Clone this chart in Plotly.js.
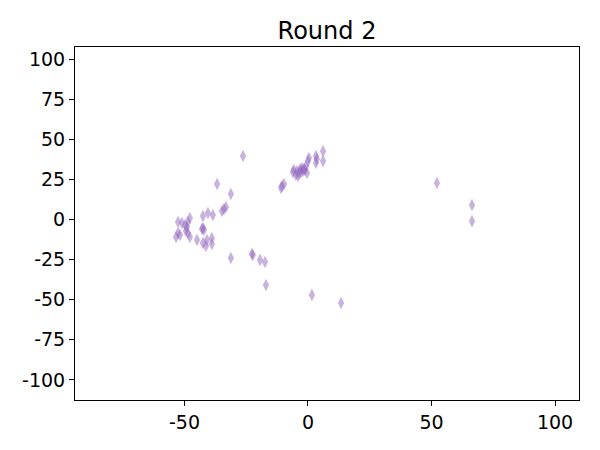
<!DOCTYPE html>
<html>
<head>
<meta charset="utf-8">
<script src="https://cdn.plot.ly/plotly-3.0.1.min.js"></script>
<style>html,body{margin:0;padding:0;background:#fff;}</style>
</head>
<body>
<div id="chart" style="width:600px;height:450px;"></div>
<script>
const xValues = [
  -52.6, -51.0, -48.6, -47.8, -49.0, -49.8, -52.6, -51.8, -53.4, -48.6,
  -47.8, -49.4, -44.9, -42.5, -42.1, -42.9, -42.5, -40.9, -41.3, -38.9,
  -38.9, -42.5, -40.5, -38.5, -36.8, -34.8, -34.0, -33.2, -31.2, -31.2,
  -22.7, -22.3, -19.4, -17.4, -17.0, -26.3, -10.9, -9.7, -10.5,
  -6.1, -5.7, -4.9, -4.5, -3.6, -3.2, -2.8, -2.4, -2.0, -1.6,
  -1.2, -4.0, -0.8, -0.4, 0.0, 0.4, 3.2, 3.6, 3.2, 6.1,
  6.1, 1.6, 13.4, 52.2, 66.4, 66.4
];
const yValues = [
  -1.6, -2.2, -1.6, 0.9, -4.7, -3.4, -8.4, -9.7, -10.9, -8.4,
  -10.9, -7.2, -12.8, -5.3, -6.5, -5.9, -14.6, -12.8, -16.5, -11.5,
  -15.3, 2.2, 4.0, 2.8, 22.1, 5.3, 6.5, 7.8, 15.9, -24.0,
  -21.5, -22.1, -25.2, -26.5, -40.8, 39.6, 19.6, 22.1, 20.9,
  29.6, 30.8, 27.7, 30.2, 29.0, 31.5, 29.6, 32.1, 30.2, 31.5,
  30.8, 27.1, 33.3, 29.0, 36.4, 38.3, 35.2, 37.7, 39.6, 42.6,
  36.4, -47.0, -52.0, 22.7, 9.0, -1.0
];
const xTickVals = [-50, 0, 50, 100];
const xTickText = ["-50", "0", "50", "100"];
const yTickVals = [100, 75, 50, 25, 0, -25, -50, -75, -100];
const yTickText = ["100", "75", "50", "25", "0", "-25", "-50", "-75", "-100"];
const chartTitle = "Round 2";

const trace = {
  type: 'scatter',
  mode: 'markers',
  x: xValues,
  y: yValues,
  marker: {
    symbol: 'diamond-tall',
    size: 9,
    color: '#9467bd',
    opacity: 0.5,
    line: {width: 0}
  },
  hoverinfo: 'x+y'
};

const axisCommon = {
  showgrid: false,
  zeroline: false,
  showline: true,
  linecolor: '#000',
  linewidth: 1,
  mirror: true,
  ticks: 'outside',
  ticklen: 5,
  tickwidth: 1,
  tickcolor: '#000',
  tickfont: {family: 'DejaVu Sans', size: 19, color: '#000'}
};

const layout = {
  width: 600,
  height: 450,
  margin: {l: 75, r: 21, t: 47, b: 50},
  paper_bgcolor: '#fff',
  plot_bgcolor: '#fff',
  showlegend: false,
  title: {
    text: chartTitle,
    font: {family: 'DejaVu Sans', size: 24, color: '#000'},
    x: 0.545, xanchor: 'center',
    y: 1 - 31/450, yanchor: 'middle', yref: 'container'
  },
  xaxis: Object.assign({}, axisCommon, {
    range: [-94.3, 109.7],
    tickvals: xTickVals,
    ticktext: xTickText
  }),
  yaxis: Object.assign({}, axisCommon, {
    range: [-112.5, 107.5],
    tickvals: yTickVals,
    ticktext: yTickText
  })
};

Plotly.newPlot('chart', [trace], layout, {displayModeBar: false, staticPlot: true});
</script>
</body>
</html>
